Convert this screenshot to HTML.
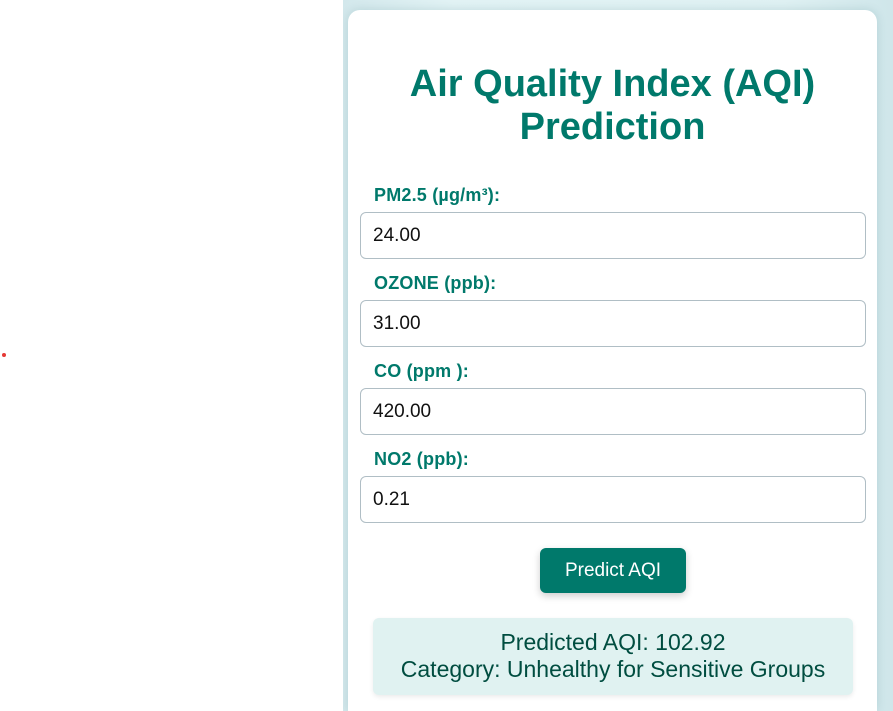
<!DOCTYPE html>
<html style="overflow:hidden"><head><style>
html,body{height:711px}
body{margin:0;width:893px;overflow:hidden;background:#fff;font-family:"Liberation Sans",sans-serif;position:relative}
.panel{position:absolute;left:343px;top:0;width:550px;height:711px;background:linear-gradient(90deg,#d3e8ec,#e2f3f5 20%,#dff1f3 80%,#cfe6ea);overflow:hidden}
.card{position:absolute;left:5px;top:10px;width:529px;height:701px;background:#fff;border-radius:12px 12px 0 0;box-shadow:0 0 10px rgba(0,80,90,.15)}
h1{position:absolute;left:0;width:529px;top:53px;margin:0;text-align:center;color:#00796b;font-size:38px;line-height:43px;font-weight:bold}
label{position:absolute;left:26px;color:#00796b;font-weight:bold;font-size:18px;letter-spacing:0.2px}
.in{position:absolute;left:12px;width:506px;height:47px;border:1px solid #b0bec5;border-radius:6px;box-sizing:border-box;padding-left:12px;line-height:46px;font-size:19px;color:#111}
.btn{position:absolute;left:192px;top:538px;width:146px;height:45px;background:#00796b;border-radius:6px;color:#fff;font-size:19px;line-height:45px;text-align:center;box-shadow:0 3px 8px rgba(0,0,0,.2)}
.res{position:absolute;left:25px;top:608px;width:480px;height:77px;background:#e0f2f1;border-radius:6px;color:#004d40;font-size:23px;text-align:center;line-height:27px;padding-top:11px;box-sizing:border-box;box-shadow:0 2px 5px rgba(0,0,0,.08)}
.dot{position:absolute;left:2px;top:353px;width:4px;height:4px;border-radius:50%;background:#e53935}
</style></head><body>
<div class="dot"></div>
<div class="panel">
<div class="card">
<h1>Air Quality Index (AQI)<br>Prediction</h1>
<label style="top:175px">PM2.5 (µg/m³):</label>
<div class="in" style="top:202px">24.00</div>
<label style="top:263px">OZONE (ppb):</label>
<div class="in" style="top:290px">31.00</div>
<label style="top:351px">CO (ppm ):</label>
<div class="in" style="top:378px">420.00</div>
<label style="top:439px">NO2 (ppb):</label>
<div class="in" style="top:466px">0.21</div>
<div class="btn">Predict AQI</div>
<div class="res">Predicted AQI: 102.92<br>Category: Unhealthy for Sensitive Groups</div>
</div>
</div>
</body></html>
